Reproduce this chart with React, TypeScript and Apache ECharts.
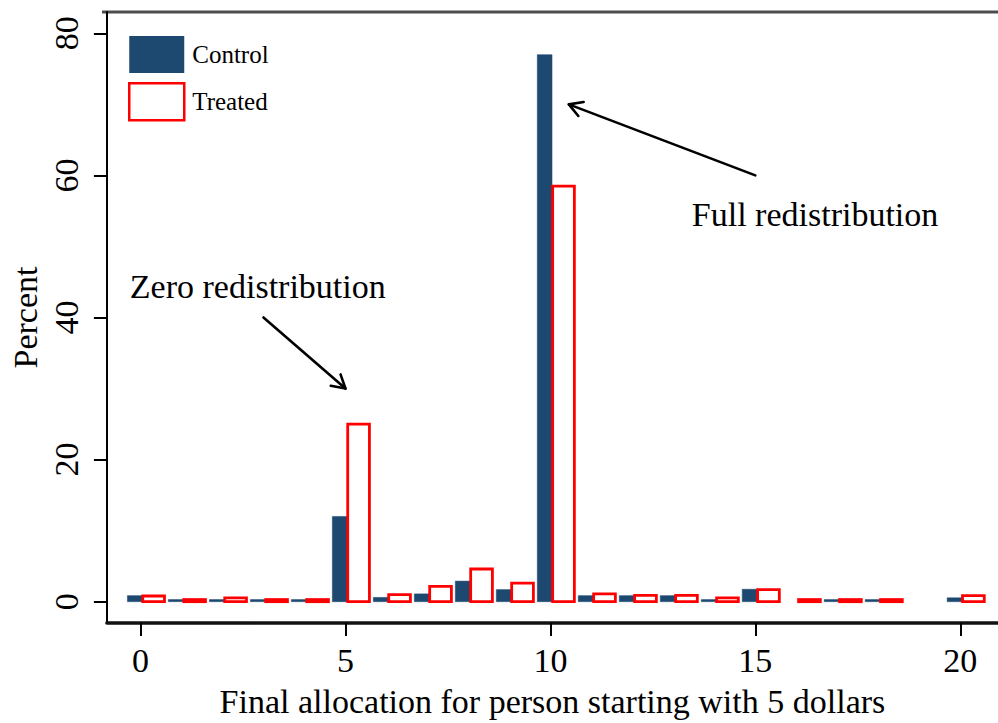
import { useEffect, useRef } from "react";
import * as echarts from "echarts";

// Final allocation (dollars) for the person starting with 5 dollars
const allocations = [0, 1, 2, 3, 4, 5, 6, 7, 8, 9, 10, 11, 12, 13, 14, 15, 16, 17, 18, 19, 20];
// Share of subjects choosing each allocation (percent)
const controlPct = [0.85, 0.3, 0.3, 0.3, 0.3, 12.0, 0.6, 1.1, 2.9, 1.7, 77.0, 0.85, 0.85, 0.85, 0.3, 1.75, 0, 0.3, 0.3, 0, 0.55];
const treatedPct = [0.8, 0.3, 0.55, 0.3, 0.3, 25.0, 1.0, 2.15, 4.6, 2.6, 58.5, 1.1, 0.9, 0.9, 0.55, 1.7, 0.3, 0.3, 0.3, 0, 0.85];

const xTicks = [0, 5, 10, 15, 20];
const yTicks = [0, 20, 40, 60, 80];

// Annotation arrows (tail -> tip, data coordinates) and their captions
const noteTexts = ["Full redistribution", "Zero redistribution"];
const noteAnchors = [[13.45, 54.5], [-0.26, 44.4]];
const arrowTails = [[15, 60], [3, 40]];
const arrowTips = [[10.45, 70], [5, 30]];

const NAVY = "#1d4870";
const RED = "#ff0000";
const FONT = "'Liberation Serif', 'Times New Roman', serif";

function barRenderer(lo: number, hi: number, treated: boolean) {
  return (_params: any, api: any) => {
    const x = api.value(0);
    const v = api.value(1);
    if (!(v > 0)) return null;
    const p0 = api.coord([x + lo, v]);
    const p1 = api.coord([x + hi, 0]);
    return {
      type: "rect",
      shape: { x: p0[0], y: p0[1], width: p1[0] - p0[0], height: p1[1] - p0[1] },
      style: treated
        ? { fill: "#ffffff", stroke: RED, lineWidth: 2.8 }
        : { fill: NAVY, stroke: NAVY, lineWidth: 0.5 },
    };
  };
}

function arrowRenderer(params: any, api: any) {
  const i = params.dataIndex;
  const tail = api.coord([api.value(0), api.value(1)]);
  const tip = api.coord([api.value(2), api.value(3)]);
  const dx = tail[0] - tip[0];
  const dy = tail[1] - tip[1];
  const len = Math.hypot(dx, dy);
  const ux = dx / len;
  const uy = dy / len;
  const head = 15;
  const ang = (30 * Math.PI) / 180;
  const rot = (a: number) => [
    tip[0] + head * (ux * Math.cos(a) - uy * Math.sin(a)),
    tip[1] + head * (ux * Math.sin(a) + uy * Math.cos(a)),
  ];
  const textPos = api.coord(noteAnchors[i]);
  const stroke = { stroke: "#000", lineWidth: 2.6, lineCap: "round", lineJoin: "round", fill: null };
  return {
    type: "group",
    children: [
      { type: "line", shape: { x1: tail[0], y1: tail[1], x2: tip[0], y2: tip[1] }, style: stroke },
      { type: "polyline", shape: { points: [rot(ang), tip, rot(-ang)] }, style: stroke },
      {
        type: "text",
        x: textPos[0],
        y: textPos[1],
        style: {
          text: noteTexts[i],
          fontSize: 34,
          fontFamily: FONT,
          fill: "#000",
          align: "left",
          verticalAlign: "middle",
        },
      },
    ],
  };
}

export default function App() {
  const ref = useRef<HTMLDivElement>(null);

  useEffect(() => {
    if (!ref.current) return;
    const chart = echarts.init(ref.current, null, { renderer: "svg" });

    const controlData = allocations.map((a, i) => [a, controlPct[i]]);
    const treatedData = allocations.map((a, i) => [a, treatedPct[i]]);
    const arrowData = arrowTails.map((t, i) => [t[0], t[1], arrowTips[i][0], arrowTips[i][1]]);

    const labelStyle = { fontSize: 34, fontFamily: FONT, color: "#000" };

    chart.setOption({
      animation: false,
      backgroundColor: "#ffffff",
      grid: { left: 103, top: 12, right: 0, bottom: 98 },
      legend: {
        orient: "vertical",
        left: 128,
        top: 36,
        padding: 0,
        itemWidth: 55,
        itemHeight: 37,
        itemGap: 9,
        selectedMode: false,
        textStyle: { fontSize: 25, fontFamily: FONT, color: "#000", padding: [11, 0, 0, 3] },
        data: [
          { name: "Control", icon: "rect", itemStyle: { color: NAVY, borderWidth: 0 } },
          { name: "Treated", icon: "rect", itemStyle: { color: "#fff", borderColor: RED, borderWidth: 2.5 } },
        ],
      },
      xAxis: {
        type: "value",
        min: -0.82,
        max: 20.92,
        splitLine: { show: false },
        axisLine: { show: true, onZero: false, lineStyle: { color: "#111", width: 3.5 } },
        axisTick: { show: true, length: 13, lineStyle: { color: "#000", width: 2 }, customValues: xTicks },
        axisLabel: { ...labelStyle, margin: 20, customValues: xTicks },
        name: "Final allocation for person starting with 5 dollars",
        nameLocation: "middle",
        nameGap: 61,
        nameTextStyle: labelStyle,
      },
      yAxis: {
        type: "value",
        min: -3,
        max: 83,
        splitLine: { show: false },
        axisLine: { show: true, onZero: false, lineStyle: { color: "#000", width: 2 } },
        axisTick: { show: true, length: 13, lineStyle: { color: "#000", width: 2 }, customValues: yTicks },
        axisLabel: { ...labelStyle, rotate: 90, margin: 23, customValues: yTicks },
        name: "Percent",
        nameLocation: "middle",
        nameRotate: 90,
        nameGap: 62,
        nameTextStyle: labelStyle,
      },
      graphic: [
        {
          type: "line",
          shape: { x1: 102, y1: 12, x2: 998, y2: 12 },
          style: { stroke: "#4d4d4d", lineWidth: 3 },
        },
      ],
      series: [
        {
          name: "Control",
          type: "custom",
          renderItem: barRenderer(-0.32, 0.04, false),
          encode: { x: 0, y: 1 },
          itemStyle: { color: NAVY },
          data: controlData,
          z: 2,
        },
        {
          name: "Treated",
          type: "custom",
          renderItem: barRenderer(0.055, 0.585, true),
          encode: { x: 0, y: 1 },
          itemStyle: { color: "#fff", borderColor: RED, borderWidth: 2.5 },
          data: treatedData,
          z: 3,
        },
        {
          name: "notes",
          type: "custom",
          renderItem: arrowRenderer,
          encode: { x: [0, 2], y: [1, 3] },
          data: arrowData,
          z: 4,
        },
      ],
    });

    return () => chart.dispose();
  }, []);

  return (
    <div
      ref={ref}
      style={{ position: "fixed", left: 0, top: 0, width: 998, height: 723, background: "#fff" }}
    />
  );
}
